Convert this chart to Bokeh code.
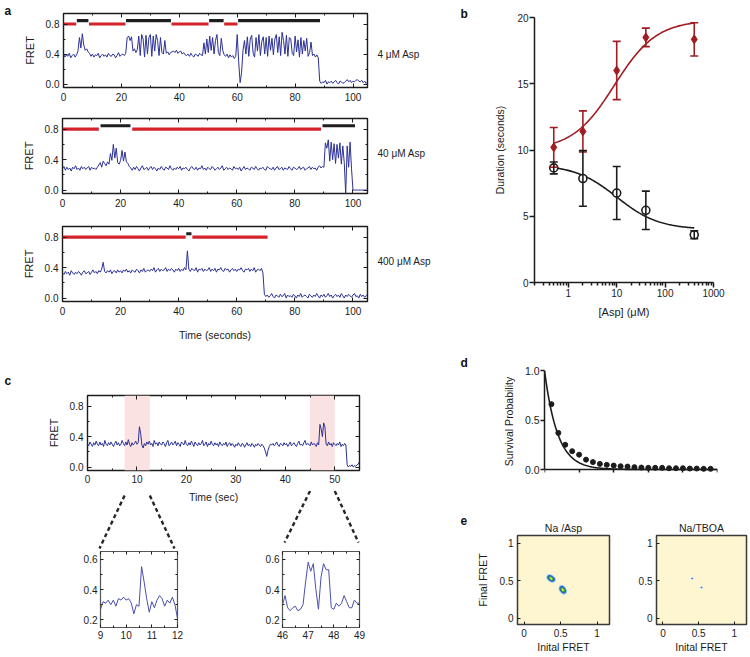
import numpy as np
from bokeh.plotting import figure
from bokeh.layouts import row, column
from bokeh.models import (Range1d, LinearAxis, FixedTicker, NumeralTickFormatter, Label,
                          Spacer, ColumnDataSource, Whisker, TeeHead, BoxAnnotation)
from bokeh.embed import file_html
from bokeh.resources import INLINE

FONT = "Liberation Sans"
INK = "#1c1c1c"
BLUE = "#2c3196"
INSET_BLUE = "#4b4fae"
RED_BAR = "#d3222a"
BLACK_BAR = "#1e1e1e"
DARK_RED = "#a11d24"
PINK = "#fbe2e2"
HEAT_BG = "#fdf6d0"

# ------------------------------------------------------------------ data
# panel a: FRET traces sampled every 0.5 s (values in hundredths of FRET)
a_step = 0.5
a_xlim = [0, 105]
fret_ylim = [-0.045, 0.94]
a_conc = ["4 \u03bcM Asp", "40 \u03bcM Asp", "400 \u03bcM Asp"]
a_conc_y = [0.40, 0.48, 0.48]

a1_fret = [40, 36, 39, 37, 41, 35, 38, 40, 36, 39,
           44, 62, 48, 67, 52, 45, 47, 43, 41,
           37, 40, 36, 39, 38, 41, 35, 38, 40, 37, 39, 36, 41, 38, 37, 40, 39, 35, 38, 42, 37, 39, 40, 38, 41,
           62, 64, 58, 63, 44, 47, 42, 46, 64, 38, 66, 60, 36, 65, 40, 62, 66, 37, 64, 44, 66, 58, 38, 62, 42,
           40, 58, 41, 43, 39, 42,
           43, 44, 42, 45, 41, 43, 44, 40, 42, 39, 38, 40, 37, 41, 38, 36, 40, 39, 37, 41, 39, 38, 55, 40, 60, 42,
           64, 45, 62, 40, 58, 66, 42, 38, 61, 45, 39,
           37, 40, 35, 39, 36, 38, 34, 37, 66, 30, 2, 15, 45,
           58, 40, 63, 37, 60, 65, 41, 36, 62, 44, 66, 38, 57, 63, 40, 62, 37, 64, 45, 61, 39, 60, 66, 42, 63,
           38, 69, 58, 40, 65, 37, 62, 60, 41, 38, 64, 43, 59, 36, 62, 40, 58, 44, 61, 37, 42, 56, 38, 40, 36,
           39, 35,
           4, 1, 3, 2, 5, 0, 3, 2, 4, 1, 3, 5, 2, 0, 4, 3, 1, 2, 4, 6, 3, 5, 2, 4, 3, 5, 6, 4, 3, 5, 2, 4, 1, 3]
a1_red = [[0, 4.4], [8.8, 21.4], [37.3, 50.1], [55.5, 60.1]]
a1_black = [[4.6, 8.6], [21.6, 37.1], [50.3, 55.3], [60.3, 88.6]]

a2_fret = [28, 31, 26, 30, 27, 29, 25, 30, 28, 32, 27, 29, 26, 31, 28, 30, 27, 29, 31, 26, 30, 28, 29, 27, 30,
           33, 36, 30, 38, 35, 32, 37, 34, 48, 39, 60, 42, 55, 36, 34, 39, 52, 38, 50, 37, 35, 31,
           29, 26, 30, 27, 31, 28, 25, 29, 32, 27, 28, 30, 26, 29, 31, 27, 30, 28, 25, 29,
           27, 31, 28, 26, 30, 29, 27, 32, 28, 26, 29, 27, 30, 28, 31, 26, 29, 28, 30, 27,
           25, 29, 31, 28, 27, 30, 26, 29, 28, 32, 27, 29, 26, 30, 28, 27, 31, 29, 26, 28,
           30, 27, 29, 32, 26, 28, 30, 27, 29, 28, 26, 31, 28, 29, 27, 30, 25, 28, 31, 27,
           29, 28, 26, 30, 29, 27, 31, 28, 26, 29, 28, 30, 27, 26, 31, 29, 28, 27, 30, 26,
           29, 31, 27, 28, 30, 26, 29, 28, 27, 31, 28, 26, 30, 29, 27, 28, 31, 27, 29, 30,
           26, 28, 29, 31, 27, 30, 28, 29, 26, 30, 32, 29, 31,
           30, 62, 55, 66, 38, 63, 40, 61, 35, 60, 42, 62, 34, 58, 36, -5, 58, 30, 63, 28, 0,
           0, 0, 0, 0, 0, 0, 0, 0, 0, 0]
a2_red = [[0, 12.5], [24.0, 89.0]]
a2_black = [[13.1, 23.4], [89.5, 100.7]]

a3_fret = [33, 31, 35, 32, 34, 30, 36, 33, 31, 34, 32, 35, 33, 30, 34, 36, 32, 33, 35, 31,
           34, 37, 33, 35, 32, 36, 34, 38, 47, 35, 33, 36, 34, 37, 32, 35, 36, 33, 37, 34,
           36, 33, 37, 35, 38, 34, 36, 33, 37, 35, 34, 38, 36, 33, 37, 35, 39, 34, 36, 37,
           35, 38, 36, 40, 34, 37, 39, 35, 38, 36, 37, 40, 35, 38, 36, 39, 37, 34, 38, 36,
           39, 35, 38, 36, 40, 37, 62, 38, 35, 39, 37, 36, 40, 34, 38, 37, 39, 35, 38, 36,
           37, 40, 35, 38, 36, 39, 34, 38, 37, 40, 36, 35, 39, 37, 38, 34, 37, 39, 36, 38,
           35, 38, 37, 40, 36, 34, 38, 37, 39, 35, 38, 36, 40, 34, 37, 38, 36, 39, 33,
           5, 2, 4, 1, 3, 6, 2, 0, 4, 3, 1, 5, 2, 3, 6, 0, 4, 2, 3, 1,
           5, 3, 0, 4, 2, 6, 1, 3, 4, 2, 0, 5, 3, 1, 4, 2, 6, 3, 0, 4,
           2, 5, 1, 3, 6, 2, 4, 0, 3, 5, 2, 4, 1, 6, 3, 0, 4, 2, 5, 3,
           1, 4, 6, 2, 3, 0, 5, 2, 4, 1, 3, 5]
a3_red = [[0, 42.4], [44.7, 70.6]]
a3_black = [[42.6, 44.4]]

# panel b: dwell durations vs [Asp]
b_conc = [0.5, 2, 10, 40, 400]
b_red_mean = [10.2, 11.4, 16.0, 18.5, 18.35]
b_red_err = [1.5, 1.55, 2.2, 0.7, 1.25]
b_blk_mean = [8.65, 7.85, 6.75, 5.45, 3.6]
b_blk_err = [0.45, 2.1, 2.0, 1.45, 0.3]
b_red_fit = dict(bottom=10.0, top=19.8, ec50=9.0, hill=1.0)
b_blk_fit = dict(bottom=4.0, top=8.9, ec50=10.0, hill=1.0)

# panel c: trace sampled every 0.25 s
c_step = 0.25
c_xlim = [0, 55]
c_fret = [31, 28, 33, 30, 27, 32, 29, 34, 30, 28,
          33, 29, 31, 27, 35, 30, 28, 32, 29, 33,
          30, 27, 31, 34, 29, 32, 28, 30, 35, 31,
          28, 33, 29, 36, 30, 27, 32, 29, 31, 34,
          30, 32, 53, 44, 29, 25, 31, 28, 33, 30,
          34, 29, 31, 27, 35, 30, 32, 28, 33, 30,
          29, 33, 31, 27, 32, 35, 28, 30, 33, 29,
          31, 34, 28, 32, 30, 27, 33, 31, 29, 35,
          30, 28, 32, 29, 34, 31, 27, 33, 30, 28,
          32, 29, 31, 35, 28, 30, 33, 27, 31, 29,
          34, 30, 28, 32, 29, 31, 27, 33, 30, 28,
          31, 29, 33, 27, 30, 32, 28, 31, 29, 26,
          30, 28, 32, 29, 27, 31, 30, 26, 29, 32,
          28, 30, 27, 31, 29, 26, 30, 28, 31, 29,
          27, 30, 28, 25, 20, 14, 22, 27, 30, 29,
          31, 28, 30, 33, 29, 27, 31, 30, 28, 32,
          29, 31, 27, 30, 33, 28, 30, 32, 29, 27,
          31, 34, 29, 30, 28, 32, 35, 29, 31, 30,
          28, 33, 29, 31, 30, 27, 32, 29,
          56, 50, 40, 58, 53,
          30, 28, 33, 29, 31, 27, 32, 30, 28, 31, 29, 33, 27, 30, 28, 31, 29,
          3, 0, 2, 1, 3, 0, 2, 1, 3, 4, 7]
c_bands = [[7.5, 12.6], [45.0, 50.0]]

# zoomed insets, sampled every 0.1 s
ins_step = 0.1
ins_ylim = [0.15, 0.65]
ins1_start = 9
ins1_fret = [27, 32, 31, 33, 30, 33, 29, 34, 33, 35, 33, 34, 31, 24, 30, 29, 55, 45, 34, 25,
             32, 28, 33, 36, 34, 29, 33, 31, 35, 30, 21]
ins2_start = 46
ins2_fret = [30, 36, 28, 26, 28, 29, 26, 27, 30, 45, 58, 52, 57, 40, 27, 48, 57, 53, 53, 28,
             27, 31, 29, 31, 36, 32, 28, 28, 33, 31, 31]

# panel d: survival probability
d_time = [0.4, 0.8, 1.2, 1.6, 2.0, 2.4, 2.8, 3.2, 3.6, 4.0, 4.4, 4.8,
          5.2, 5.6, 6.0, 6.4, 6.8, 7.2, 7.6, 8.0, 8.4, 8.8, 9.2, 9.6]
d_surv = [0.66, 0.37, 0.25, 0.185, 0.15, 0.10, 0.075, 0.057, 0.047, 0.04, 0.033, 0.03,
          0.024, 0.02, 0.017, 0.017, 0.017, 0.013, 0.013, 0.013, 0.01, 0.01, 0.007, 0.007]
d_tau = 0.75

# panel e: transition density maps
e_titles = ["Na /Asp", "Na/TBOA"]
e1_peak_x = [0.37, 0.53]
e1_peak_y = [0.53, 0.38]
e1_peak_angle = [-0.6, -1.0]
e1_level_w = [0.15, 0.115, 0.08, 0.04]
e1_level_h = [0.10, 0.075, 0.05, 0.022]
e_level_colors = ["#a6d6f2", "#2b57d2", "#2eaa42", "#ecef3c"]
e2_peak_x = [0.41, 0.54]
e2_peak_y = [0.53, 0.41]
e2_level_w = [0.05, 0.025]
e2_level_h = [0.035, 0.018]
e2_level_colors = ["#cfe8f7", "#3a66d6"]


# ------------------------------------------------------------------ helpers
def style_axis(ax, size="10px", t_in=0, t_out=0, m_in=0, m_out=0,
               line_color=None, line_width=1.0, label_size="11px", standoff=3):
    ax.axis_line_color = line_color
    ax.axis_line_width = line_width
    ax.major_tick_in = t_in
    ax.major_tick_out = t_out
    ax.minor_tick_in = m_in
    ax.minor_tick_out = m_out
    ax.major_tick_line_color = INK
    ax.minor_tick_line_color = INK
    ax.major_tick_line_width = line_width
    ax.minor_tick_line_width = line_width
    ax.major_label_text_font = FONT
    ax.major_label_text_font_size = size
    ax.major_label_text_color = INK
    ax.major_label_standoff = standoff
    ax.axis_label_text_font = FONT
    ax.axis_label_text_font_size = label_size
    ax.axis_label_text_font_style = "normal"
    ax.axis_label_text_color = INK


def mirror_axis(p, side, ticker, t_in, m_in):
    ax = LinearAxis(ticker=ticker)
    style_axis(ax, t_in=t_in, m_in=m_in)
    ax.major_label_text_color = None
    ax.major_label_text_font_size = "1px"
    ax.major_label_standoff = 0
    p.add_layout(ax, side)


def new_fig(w, h, bl, br, bt, bb, xr, yr, **kw):
    p = figure(width=w, height=h, x_range=xr, y_range=yr, output_backend="svg",
               toolbar_location=None, min_border_left=bl, min_border_right=br,
               min_border_top=bt, min_border_bottom=bb, **kw)
    p.grid.visible = False
    p.outline_line_color = None
    return p


def bare_fig(w, h, xr, yr, bt=0, bb=0):
    p = figure(width=w, height=h, x_range=xr, y_range=yr, output_backend="svg",
               toolbar_location=None, x_axis_location=None, y_axis_location=None,
               min_border_left=0, min_border_right=0, min_border_top=bt, min_border_bottom=bb)
    p.grid.visible = False
    p.outline_line_color = None
    return p


def W(p):
    # wrap a figure so that sibling figures keep their own frame positions
    return column(p)


def letter_fig(w, h, x, baseline, text):
    p = bare_fig(w, h, Range1d(0, w), Range1d(h, 0))
    p.add_layout(Label(x=x, y=baseline, text=text, text_font=FONT, text_font_size="12px",
                       text_font_style="bold", text_color="#111", text_baseline="alphabetic",
                       text_align="left"))
    return p


A_LEFT, A_W, A_FIG_W = 62, 305, 372
LEFT_W, RIGHT_W = 440, 308
LETTER_A_W, LETTER_R_W = 20, 30
RED_LEVEL, BLACK_LEVEL = 0.80, 0.845


def trace_panel(fret, red, black, width, left, height, top, bottom, xlabel=None):
    p = new_fig(width, height, left, width - left - A_W, top, bottom,
                Range1d(*a_xlim), Range1d(*fret_ylim))
    p.outline_line_color = INK
    p.outline_line_width = 1.4
    xt = FixedTicker(ticks=[0, 20, 40, 60, 80, 100], minor_ticks=[10, 30, 50, 70, 90])
    yt = FixedTicker(ticks=[0, 0.4, 0.8], minor_ticks=[0.2, 0.6])
    p.xaxis.ticker = xt
    p.yaxis.ticker = yt
    style_axis(p.xaxis[0], t_in=4, m_in=2, standoff=5)
    style_axis(p.yaxis[0], t_in=4, m_in=2, standoff=4)
    p.yaxis.formatter = NumeralTickFormatter(format="0.0")
    p.yaxis.axis_label = "FRET"
    p.yaxis.axis_label_standoff = 7
    if xlabel:
        p.xaxis.axis_label = xlabel
        p.xaxis.axis_label_standoff = 11
        p.xaxis.axis_label_text_font_size = "10.5px"
    mirror_axis(p, "above", xt, 4, 2)
    mirror_axis(p, "right", yt, 4, 2)
    t = np.arange(len(fret)) * a_step
    p.line(t, np.array(fret) / 100.0, line_color=BLUE, line_width=1.0)
    p.segment(x0=[s[0] for s in red], x1=[s[1] for s in red], y0=RED_LEVEL, y1=RED_LEVEL,
              line_color=RED_BAR, line_width=3.2)
    p.segment(x0=[s[0] for s in black], x1=[s[1] for s in black], y0=BLACK_LEVEL,
              y1=BLACK_LEVEL, line_color=BLACK_BAR, line_width=3.2)
    return p


def conc_fig(text, yv, height, top, bottom):
    w = LEFT_W - A_FIG_W
    p = bare_fig(w, height, Range1d(0, w), Range1d(*fret_ylim), bt=top, bb=bottom)
    p.add_layout(Label(x=5, y=yv, text=text, text_font=FONT, text_font_size="10px",
                       text_color=INK, text_baseline="middle", text_align="left"))
    return p


# ------------------------------------------------------------------ panel a
A_ROWS = [(a1_fret, a1_red, a1_black, 110, 13, 23, None),
          (a2_fret, a2_red, a2_black, 108, 8, 25, None),
          (a3_fret, a3_red, a3_black, 127, 8, 44, "Time (seconds)")]
a_rows = []
for k, (fr, rd, bk, h, tp, bt, xl) in enumerate(A_ROWS):
    lab = conc_fig(a_conc[k], a_conc_y[k], h, tp, bt)
    if k == 0:
        fig_a = trace_panel(fr, rd, bk, A_FIG_W - LETTER_A_W, A_LEFT - LETTER_A_W, h, tp, bt, xl)
        a_rows.append(row(W(letter_fig(LETTER_A_W, h, 4, 10, "a")), W(fig_a), W(lab)))
    else:
        fig_a = trace_panel(fr, rd, bk, A_FIG_W, A_LEFT, h, tp, bt, xl)
        a_rows.append(row(W(fig_a), W(lab)))

strip_c = letter_fig(LEFT_W, 42, 4, 35.5, "c")

# ------------------------------------------------------------------ panel c
C_LEFT, C_W = 87, 272
c_scale = C_W / (c_xlim[1] - c_xlim[0])
c = new_fig(LEFT_W, 103, C_LEFT, LEFT_W - C_LEFT - C_W, 8, 20, Range1d(*c_xlim), Range1d(*fret_ylim))
c.outline_line_color = INK
c.outline_line_width = 1.4
cxt = FixedTicker(ticks=[0, 10, 20, 30, 40, 50], minor_ticks=[5, 15, 25, 35, 45])
cyt = FixedTicker(ticks=[0, 0.4, 0.8], minor_ticks=[0.2, 0.6])
c.xaxis.ticker = cxt
c.yaxis.ticker = cyt
style_axis(c.xaxis[0], t_in=4, m_in=2, standoff=4)
style_axis(c.yaxis[0], t_in=4, m_in=2, standoff=4)
c.yaxis.formatter = NumeralTickFormatter(format="0.0")
c.yaxis.axis_label = "FRET"
c.yaxis.axis_label_standoff = 7
mirror_axis(c, "above", cxt, 4, 2)
mirror_axis(c, "right", cyt, 4, 2)
for lo, hi in c_bands:
    c.add_layout(BoxAnnotation(left=lo, right=hi, fill_color=PINK, fill_alpha=1.0,
                               line_color=None, level="underlay"))
c.line(np.arange(len(c_fret)) * c_step, np.array(c_fret) / 100.0, line_color=BLUE, line_width=1.0)

# inset geometry (pixels within the left column)
INS_FIG_L, INS_BL, INS_W, INS_BR, INS_GAP = 70, 30, 77, 6, 69
INS_H, INS_BT, INS_BB = 106, 2, 28
ins1_left = INS_FIG_L + INS_BL
ins2_left = INS_FIG_L + INS_BL + INS_W + INS_BR + INS_GAP + INS_BL


def px_to_t(px):
    return c_xlim[0] + (px - C_LEFT) / c_scale


# connector strip continuing the time scale of panel c
CONN_H = 59
conn = bare_fig(LEFT_W, CONN_H, Range1d(px_to_t(0), px_to_t(LEFT_W)), Range1d(CONN_H, 0))
conn.segment(x0=[c_bands[0][0], c_bands[0][1], c_bands[1][0], c_bands[1][1]],
             y0=[5, 5, 0.5, 0.5],
             x1=[px_to_t(ins1_left - 1), px_to_t(ins1_left + INS_W - 3),
                 px_to_t(ins2_left + 2), px_to_t(ins2_left + INS_W - 1)],
             y1=[58, 58, 52, 52],
             line_color="#262626", line_width=2.4, line_dash="4 3")
conn.add_layout(Label(x=25.5, y=6, text="Time (sec)", text_font=FONT, text_font_size="10.5px",
                      text_color=INK, text_baseline="middle", text_align="center"))


def inset(fret, start):
    p = new_fig(INS_BL + INS_W + INS_BR, INS_H, INS_BL, INS_BR, INS_BT, INS_BB,
                Range1d(start, start + 3), Range1d(*ins_ylim))
    p.outline_line_color = "#555"
    p.outline_line_width = 1.2
    xt = FixedTicker(ticks=[start + i for i in range(4)], minor_ticks=[start + 0.5 + i for i in range(3)])
    yt = FixedTicker(ticks=[0.2, 0.4, 0.6], minor_ticks=[0.3, 0.5])
    p.xaxis.ticker = xt
    p.yaxis.ticker = yt
    style_axis(p.xaxis[0], t_in=3, m_in=2, standoff=3)
    style_axis(p.yaxis[0], t_in=3, m_in=2, standoff=3)
    p.yaxis.formatter = NumeralTickFormatter(format="0.0")
    p.xaxis.formatter = NumeralTickFormatter(format="0")
    mirror_axis(p, "above", xt, 3, 2)
    mirror_axis(p, "right", yt, 3, 2)
    t = start + np.arange(len(fret)) * ins_step
    p.line(t, np.array(fret) / 100.0, line_color=INSET_BLUE, line_width=1.0)
    return p


i1 = inset(ins1_fret, ins1_start)
i2 = inset(ins2_fret, ins2_start)
ins_row = row(Spacer(width=INS_FIG_L, height=INS_H), W(i1), Spacer(width=INS_GAP, height=INS_H), W(i2),
              Spacer(width=LEFT_W - INS_FIG_L - 2 * (INS_BL + INS_W + INS_BR) - INS_GAP, height=INS_H))

left_col = column(*a_rows, W(strip_c), W(c), W(conn), ins_row)

# ------------------------------------------------------------------ panel b
B_W = RIGHT_W - LETTER_R_W
B_H = 320
b = new_fig(B_W, B_H, 94 - LETTER_R_W, B_W - (94 - LETTER_R_W) - 179, 17, 37,
            Range1d(0.2, 1000), Range1d(0, 20), x_axis_type="log")
b.xaxis.ticker = FixedTicker(ticks=[1, 10, 100, 1000],
                             minor_ticks=[m * 10.0 ** e for e in range(-1, 3) for m in range(2, 10)])
b.xaxis.formatter = NumeralTickFormatter(format="0")
b.yaxis.ticker = FixedTicker(ticks=[0, 5, 10, 15, 20])
style_axis(b.xaxis[0], size="10px", t_out=5, m_out=3, line_color=INK, line_width=1.5, standoff=1)
style_axis(b.yaxis[0], size="10px", t_out=5, line_color=INK, line_width=1.5, standoff=1)
b.xaxis.axis_label = "[Asp] (\u03bcM)"
b.yaxis.axis_label = "Duration (seconds)"
b.xaxis.axis_label_standoff = 6
b.yaxis.axis_label_standoff = 8
b.yaxis.axis_label_text_font_size = "10.5px"

fx = np.logspace(np.log10(b_conc[0]), np.log10(b_conc[-1]), 150)
red_curve = b_red_fit["bottom"] + (b_red_fit["top"] - b_red_fit["bottom"]) / (
    1 + (b_red_fit["ec50"] / fx) ** b_red_fit["hill"])
blk_curve = b_blk_fit["bottom"] + (b_blk_fit["top"] - b_blk_fit["bottom"]) / (
    1 + (fx / b_blk_fit["ec50"]) ** b_blk_fit["hill"])

red_src = ColumnDataSource(dict(x=b_conc, y=b_red_mean,
                                lo=[m - e for m, e in zip(b_red_mean, b_red_err)],
                                hi=[m + e for m, e in zip(b_red_mean, b_red_err)]))
blk_src = ColumnDataSource(dict(x=b_conc, y=b_blk_mean,
                                lo=[m - e for m, e in zip(b_blk_mean, b_blk_err)],
                                hi=[m + e for m, e in zip(b_blk_mean, b_blk_err)]))
b.line(fx, red_curve, line_color=DARK_RED, line_width=1.6)
b.add_layout(Whisker(source=red_src, base="x", upper="hi", lower="lo", line_color=DARK_RED,
                     line_width=1.6, level="glyph",
                     upper_head=TeeHead(size=8, line_color=DARK_RED, line_width=1.6),
                     lower_head=TeeHead(size=8, line_color=DARK_RED, line_width=1.6)))
b.scatter("x", "y", source=red_src, marker="diamond", size=9, fill_color=DARK_RED,
          line_color=DARK_RED)
b.line(fx, blk_curve, line_color=INK, line_width=1.6)
b.add_layout(Whisker(source=blk_src, base="x", upper="hi", lower="lo", line_color=INK,
                     line_width=1.6, level="glyph",
                     upper_head=TeeHead(size=8, line_color=INK, line_width=1.6),
                     lower_head=TeeHead(size=8, line_color=INK, line_width=1.6)))
b.scatter("x", "y", source=blk_src, marker="circle", size=8, fill_color="white",
          line_color=INK, line_width=1.6)
row_b = row(W(letter_fig(LETTER_R_W, B_H, 20, 13, "b")), W(b))

# ------------------------------------------------------------------ panel d
D_W = RIGHT_W - LETTER_R_W
D_H = 177
d = new_fig(D_W, D_H, 104 - LETTER_R_W, D_W - (104 - LETTER_R_W) - 173, 50, 25,
            Range1d(0, 10), Range1d(-0.03, 1.0))
d.xaxis.ticker = FixedTicker(ticks=[0, 4, 8], minor_ticks=[2, 6, 10])
d.yaxis.ticker = FixedTicker(ticks=[0, 0.5, 1.0])
d.xaxis.formatter = NumeralTickFormatter(format="0")
d.yaxis.formatter = NumeralTickFormatter(format="0.0")
style_axis(d.xaxis[0], size="10.5px", t_out=4, m_out=4, line_color=INK, line_width=1.5, standoff=1)
style_axis(d.yaxis[0], size="10.5px", t_out=4, line_color=INK, line_width=1.5, standoff=1)
d.xaxis.fixed_location = 0
d.yaxis.bounds = (0, 1)
d.xaxis.axis_label = "Time (seconds)"
d.yaxis.axis_label = "Survival Probability"
d.xaxis.axis_label_text_font_size = "10.5px"
d.yaxis.axis_label_text_font_size = "10.5px"
d.xaxis.axis_label_standoff = 0
d.yaxis.axis_label_standoff = 7
dt = np.linspace(0, 10, 200)
d.line(dt, np.exp(-dt / d_tau), line_color=INK, line_width=1.6)
d.scatter(d_time, d_surv, marker="circle", size=5, fill_color=INK, line_color=INK)
row_d = row(W(letter_fig(LETTER_R_W, D_H, 20, 42, "d")), W(d))


# ------------------------------------------------------------------ panel e
E_H = 158


def heat(w, bl, br, title, ylabel):
    p = new_fig(w, E_H, bl, br, 38, 28, Range1d(-0.09, 1.17), Range1d(-0.08, 1.1))
    p.background_fill_color = HEAT_BG
    p.outline_line_color = "#3a3a3a"
    p.outline_line_width = 1.5
    for ax in (p.xaxis[0], p.yaxis[0]):
        ax.ticker = FixedTicker(ticks=[0, 0.5, 1])
        ax.formatter = NumeralTickFormatter(format="0.[0]")
        style_axis(ax, size="10px", t_in=3, standoff=4, label_size="10.5px")
    p.xaxis.axis_label = "Inital FRET"
    p.xaxis.axis_label_standoff = 1
    if ylabel:
        p.yaxis.axis_label = ylabel
        p.yaxis.axis_label_standoff = 8
    p.title.text = title
    p.title.align = "center"
    p.title.text_font = FONT
    p.title.text_font_size = "10.5px"
    p.title.text_font_style = "normal"
    p.title.text_color = INK
    p.title.standoff = 4
    return p


E1_W = 179 - LETTER_R_W
e1 = heat(E1_W, 77 - LETTER_R_W, 10, e_titles[0], "Final FRET")
for k, (cw, ch) in enumerate(zip(e1_level_w, e1_level_h)):
    e1.ellipse(x=e1_peak_x, y=e1_peak_y, width=cw, height=ch, angle=e1_peak_angle,
               fill_color=e_level_colors[k], line_color=None)
e2 = heat(RIGHT_W - 179, 37, 2, e_titles[1], None)
for k, (cw, ch) in enumerate(zip(e2_level_w, e2_level_h)):
    e2.ellipse(x=e2_peak_x, y=e2_peak_y, width=cw, height=ch,
               fill_color=e2_level_colors[k], line_color=None)
row_e = row(W(letter_fig(LETTER_R_W, E_H, 20, 23, "e")), W(e1), W(e2))

right_col = column(row_b, row_d, row_e)

layout = row(left_col, right_col)
open("out.html", "w").write(file_html(layout, INLINE))
